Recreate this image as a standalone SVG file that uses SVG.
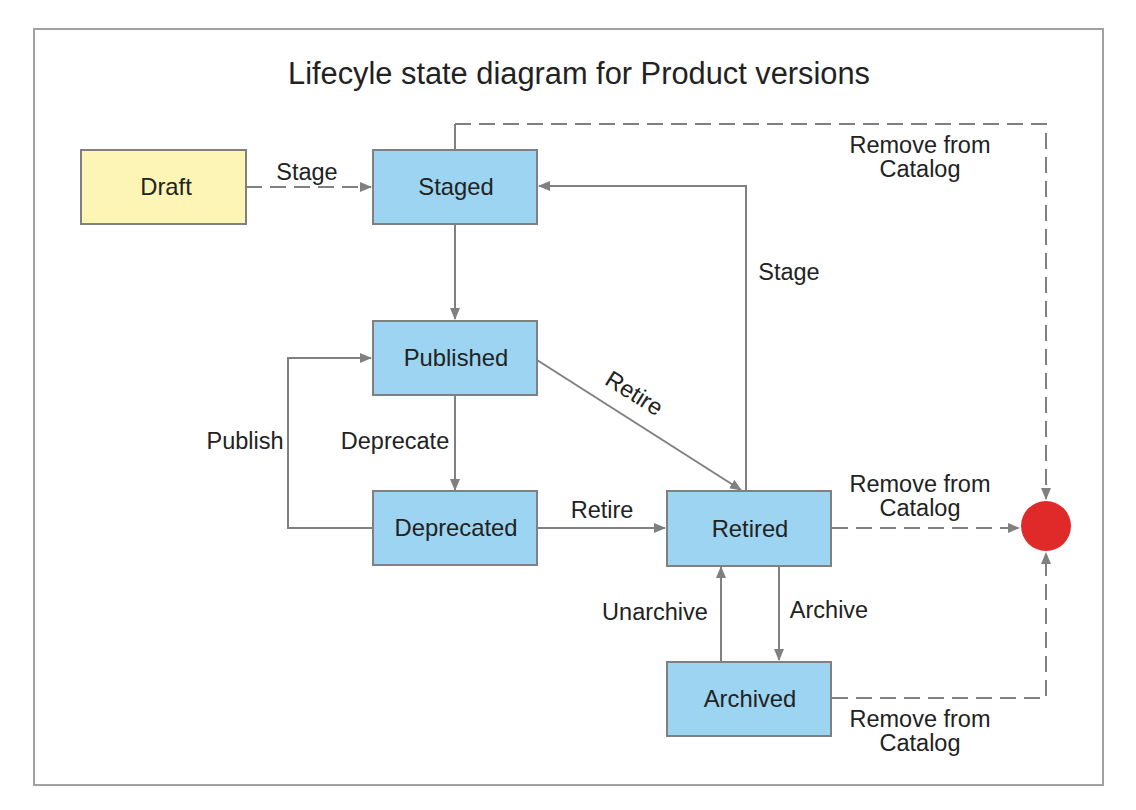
<svg xmlns="http://www.w3.org/2000/svg" width="1136" height="810" viewBox="0 0 1136 810">
<style>
.node rect{stroke:#808080;stroke-width:2}
.blue{fill:#9dd4f1}
.yellow{fill:#fdf5b5}
text{font-family:"Liberation Sans",Arial,sans-serif;fill:#222;text-anchor:middle}
.nl{font-size:23.8px}
.el{font-size:23.5px}
.title{font-size:30.8px}
.c{fill:none;stroke:#808080;stroke-width:2}
.d{stroke-dasharray:16 8}
</style>
<defs>
<marker id="ah" markerWidth="12" markerHeight="10" refX="11" refY="5" orient="auto" markerUnits="userSpaceOnUse">
<path d="M0,0 L12,5 L0,10 Z" fill="#808080"/>
</marker>
</defs>
<rect x="0" y="0" width="1136" height="810" fill="#ffffff"/>
<rect x="34" y="29" width="1069" height="756" fill="#ffffff" stroke="#a0a0a0" stroke-width="2"/>
<text class="title" x="579" y="84">Lifecyle state diagram for Product versions</text>

<g id="connectors">
<path class="c d" d="M246,187 H371" marker-end="url(#ah)"/>
<path class="c" d="M455,224 V319" marker-end="url(#ah)"/>
<path class="c" d="M455,395 V490" marker-end="url(#ah)"/>
<path class="c" d="M373,528 H288 V358 H371" marker-end="url(#ah)"/>
<path class="c" d="M537,360 L741,490" marker-end="url(#ah)"/>
<path class="c" d="M537,528 H665" marker-end="url(#ah)"/>
<path class="c" d="M746,491 V186 H539" marker-end="url(#ah)"/>
<path class="c" d="M779,566 V660" marker-end="url(#ah)"/>
<path class="c" d="M721,662 V567" marker-end="url(#ah)"/>
<path class="c" d="M455,150 V124"/>
<path class="c d" d="M455,124 H1046 V499" marker-end="url(#ah)"/>
<path class="c d" d="M832,528 H1019" marker-end="url(#ah)"/>
<path class="c d" d="M832,698 H1046 V553" marker-end="url(#ah)"/>
<text class="el" x="307" y="180">Stage</text>
<text class="el" x="920" y="153">Remove from</text>
<text class="el" x="920" y="177">Catalog</text>
<text class="el" x="789" y="280">Stage</text>
<text class="el" transform="translate(630,400) rotate(32)">Retire</text>
<text class="el" x="245" y="449">Publish</text>
<text class="el" x="395" y="449">Deprecate</text>
<text class="el" x="602" y="518">Retire</text>
<text class="el" x="920" y="492">Remove from</text>
<text class="el" x="920" y="516">Catalog</text>
<text class="el" x="655" y="620">Unarchive</text>
<text class="el" x="829" y="618">Archive</text>
<text class="el" x="920" y="727">Remove from</text>
<text class="el" x="920" y="751">Catalog</text>
</g>

<g id="draft" class="node"><rect class="yellow" x="81" y="150" width="165" height="74"/><text class="nl" x="166" y="195">Draft</text></g>
<g id="staged" class="node"><rect class="blue" x="373" y="150" width="164" height="74"/><text class="nl" x="456" y="195">Staged</text></g>
<g id="published" class="node"><rect class="blue" x="373" y="321" width="164" height="74"/><text class="nl" x="456" y="366">Published</text></g>
<g id="deprecated" class="node"><rect class="blue" x="373" y="491" width="164" height="74"/><text class="nl" x="456" y="536">Deprecated</text></g>
<g id="retired" class="node"><rect class="blue" x="667" y="491" width="164" height="75"/><text class="nl" x="750" y="537">Retired</text></g>
<g id="archived" class="node"><rect class="blue" x="667" y="662" width="164" height="74"/><text class="nl" x="750" y="707">Archived</text></g>
<g id="end"><circle cx="1046" cy="526" r="25" fill="#e02a2a"/></g>
</svg>
